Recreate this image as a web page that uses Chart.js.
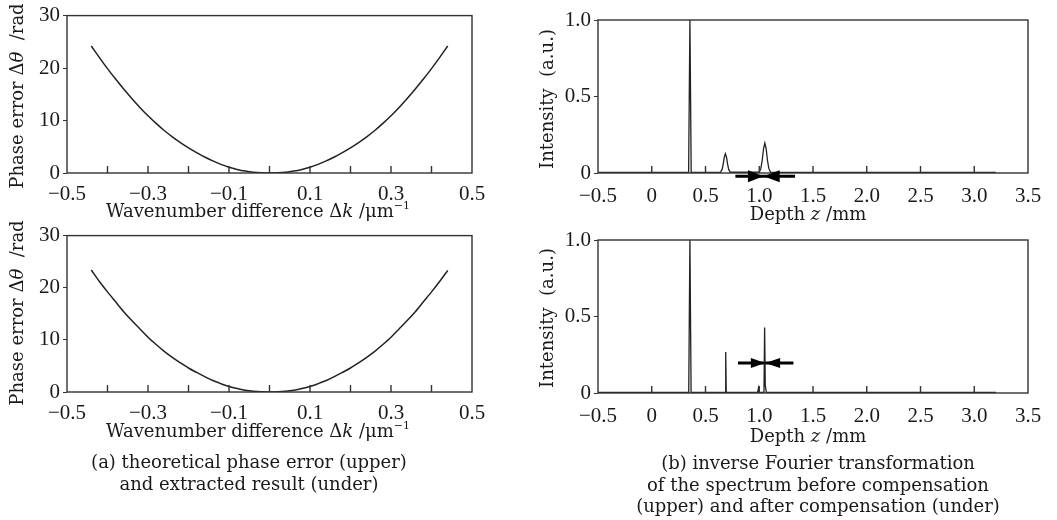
<!DOCTYPE html>
<html>
<head>
<meta charset="utf-8">
<script src="https://cdn.jsdelivr.net/npm/chart.js@4.4.1/dist/chart.umd.min.js"></script>
<style>
  body { margin: 0; background: #fff; }
  #page { position: relative; width: 1057px; height: 520px; overflow: hidden; font-family: "DejaVu Serif", serif; color: #1a1a1a; }
  canvas { position: absolute; }
  .txt { position: absolute; font-size: 18px; white-space: nowrap; transform: translate(-50%, -50%); line-height: 1; }
  .rot { transform: translate(-50%, -50%) rotate(-90deg); }
  .cap { position: absolute; font-size: 18px; text-align: center; transform: translateX(-50%); line-height: 21.7px; white-space: nowrap; }
  sup { font-size: 11px; vertical-align: 8px; line-height: 0; }
</style>
</head>
<body>
<div id="page">
  <canvas id="chartA" width="500" height="220" style="left:0;top:0"></canvas>
  <canvas id="chartB" width="500" height="225" style="left:0;top:220px"></canvas>
  <canvas id="chartC" width="527" height="220" style="left:530px;top:0"></canvas>
  <canvas id="chartD" width="527" height="225" style="left:530px;top:220px"></canvas>

  <div class="txt rot" style="left:17px;top:96px">Phase error &Delta;<i>&theta;</i>&nbsp; /rad</div>
  <div class="txt rot" style="left:17px;top:313px">Phase error &Delta;<i>&theta;</i>&nbsp; /rad</div>
  <div class="txt rot" style="left:547px;top:99px">Intensity&nbsp; (a.u.)</div>
  <div class="txt rot" style="left:547px;top:318px">Intensity&nbsp; (a.u.)</div>

  <div class="txt" style="left:258px;top:211px">Wavenumber difference &Delta;<i>k</i> /&mu;m<sup>&minus;1</sup></div>
  <div class="txt" style="left:258px;top:431px">Wavenumber difference &Delta;<i>k</i> /&mu;m<sup>&minus;1</sup></div>
  <div class="txt" style="left:808px;top:214px">Depth <i>z</i> /mm</div>
  <div class="txt" style="left:808px;top:436px">Depth <i>z</i> /mm</div>

  <div class="cap" style="left:249px;top:451px">(a) theoretical phase error (upper)<br>and extracted result (under)</div>
  <div class="cap" style="left:818px;top:452px">(b) inverse Fourier transformation<br>of the spectrum before compensation<br>(upper) and after compensation (under)</div>
</div>

<script>
// wavenumber difference (um^-1) and phase error (rad)
const dkValues = [-0.44, -0.42, -0.40, -0.38, -0.36, -0.34, -0.32, -0.30, -0.28, -0.26, -0.24, -0.22,
                  -0.20, -0.18, -0.16, -0.14, -0.12, -0.10, -0.08, -0.06, -0.04, -0.02, 0.00,
                  0.02, 0.04, 0.06, 0.08, 0.10, 0.12, 0.14, 0.16, 0.18, 0.20, 0.22,
                  0.24, 0.26, 0.28, 0.30, 0.32, 0.34, 0.36, 0.38, 0.40, 0.42, 0.44];
const phaseTheory = [24.2, 22.0, 19.9, 17.9, 16.0, 14.2, 12.5, 10.9, 9.45, 8.1, 6.9, 5.8,
                     4.8, 3.9, 3.05, 2.3, 1.65, 1.1, 0.68, 0.36, 0.14, 0.03, 0,
                     0.03, 0.14, 0.36, 0.68, 1.1, 1.65, 2.3, 3.05, 3.9, 4.8, 5.8,
                     6.9, 8.1, 9.45, 10.9, 12.5, 14.2, 16.0, 17.9, 19.9, 22.0, 24.2];
const phaseExtracted = [23.4, 21.2, 19.2, 17.3, 15.4, 13.7, 12.1, 10.5, 9.1, 7.8, 6.65, 5.6,
                        4.6, 3.75, 2.95, 2.2, 1.6, 1.06, 0.66, 0.35, 0.14, 0.03, 0,
                        0.03, 0.14, 0.35, 0.66, 1.06, 1.6, 2.2, 2.95, 3.75, 4.6, 5.6,
                        6.65, 7.8, 9.1, 10.5, 12.1, 13.7, 15.4, 17.3, 19.2, 21.2, 23.3];

// depth (mm) and intensity before compensation
const zBefore = [-0.5, 0.343, 0.355, 0.367,
                 0.64, 0.655, 0.665, 0.675, 0.685, 0.695, 0.705, 0.715, 0.73,
                 1.0, 1.015, 1.027, 1.04, 1.052, 1.064, 1.077, 1.089, 1.105, 3.2];
const iBefore = [0.004, 0.004, 1.0, 0.004,
                 0.005, 0.025, 0.06, 0.105, 0.126, 0.105, 0.06, 0.025, 0.005,
                 0.005, 0.03, 0.08, 0.16, 0.196, 0.16, 0.08, 0.03, 0.005, 0.004];

// depth (mm) and intensity after compensation
const zAfter = [-0.5, 0.344, 0.355, 0.366,
                0.683, 0.688, 0.693,
                0.985, 0.993, 1.0, 1.044, 1.05, 1.056, 1.066, 3.2];
const iAfter = [0.004, 0.004, 1.0, 0.004,
                0.004, 0.268, 0.004,
                0.004, 0.033, 0.004, 0.004, 0.428, 0.05, 0.004, 0.004];

// arrows: [line start, left head base, tip, right head base, line end]
const arrowUpperX = [0.778, 0.895, 1.04, 1.19, 1.333];
const arrowUpperY = -0.022;
const arrowLowerX = [0.802, 0.922, 1.055, 1.194, 1.318];
const arrowLowerY = 0.196;

const phaseTicks = [0, 10, 20, 30];
const intensityTicks = [0, 0.5, 1.0];
const depthTicks = [-0.5, 0, 0.5, 1.0, 1.5, 2.0, 2.5, 3.0, 3.5];

Chart.defaults.font.family = '"Liberation Serif", serif';
Chart.defaults.font.size = 21;
Chart.defaults.color = '#1a1a1a';

const ink = '#222';

function minus(v, digits) {
  if (Math.abs(v) < 1e-9) return '0';
  const s = Math.abs(v).toFixed(digits);
  return v < 0 ? '\u2212' + s : s;
}

// frame + inward x ticks
const framePlugin = {
  id: 'frame',
  afterDraw(chart) {
    const { ctx, chartArea: a, scales } = chart;
    ctx.save();
    ctx.strokeStyle = '#333';
    ctx.lineWidth = 1.4;
    ctx.strokeRect(a.left, a.top, a.right - a.left, a.bottom - a.top);
    ctx.beginPath();
    scales.x.ticks.forEach((t, i) => {
      const px = scales.x.getPixelForTick(i);
      if (px <= a.left + 1 || px >= a.right - 1) return;
      ctx.moveTo(px, a.bottom);
      ctx.lineTo(px, a.bottom - 7);
    });
    ctx.stroke();
    ctx.restore();
  }
};

const arrowPlugin = {
  id: 'arrowHeads',
  afterDraw(chart, args, opts) {
    if (!opts.xs) return;
    const { ctx, scales } = chart;
    const y = scales.y.getPixelForValue(opts.y);
    const tip = scales.x.getPixelForValue(opts.xs[2]);
    const bases = [opts.xs[1], opts.xs[3]].map(v => scales.x.getPixelForValue(v));
    const h = opts.half || 5.5;
    ctx.save();
    ctx.fillStyle = '#000';
    bases.forEach(b => {
      ctx.beginPath();
      ctx.moveTo(b, y - h);
      ctx.lineTo(tip, y);
      ctx.lineTo(b, y + h);
      ctx.closePath();
      ctx.fill();
    });
    ctx.restore();
  }
};

function axisY(min, max, tickList, fmt, width) {
  return {
    min: min, max: max,
    afterFit: s => { s.width = width; },
    afterBuildTicks: s => { s.ticks = tickList.map(v => ({ value: v })); },
    ticks: { padding: 3, callback: fmt },
    grid: { drawOnChartArea: false, drawTicks: true, tickLength: 4, color: '#333' },
    border: { display: false }
  };
}

function phaseChart(id, values, padTop, xHeight) {
  return new Chart(document.getElementById(id), {
    type: 'line',
    data: {
      labels: dkValues,
      datasets: [{
        data: dkValues.map((x, i) => ({ x: x, y: values[i] })),
        borderColor: ink,
        borderWidth: 1.5,
        pointRadius: 0,
        tension: 0.3
      }]
    },
    options: {
      responsive: false,
      animation: false,
      layout: { padding: { left: 0, right: 28, top: padTop, bottom: 0 } },
      plugins: { legend: { display: false }, tooltip: { enabled: false } },
      scales: {
        x: {
          type: 'linear', min: -0.5, max: 0.5,
          afterFit: s => { s.height = xHeight; },
          ticks: {
            stepSize: 0.1, autoSkip: false, maxRotation: 0, padding: 9,
            callback: v => (Math.abs(Math.round(v * 10)) % 2 === 1 ? minus(v, 1) : '')
          },
          grid: { drawOnChartArea: false, drawTicks: false },
          border: { display: false }
        },
        y: axisY(0, 30, phaseTicks, v => String(v), 67)
      }
    },
    plugins: [framePlugin]
  });
}

function depthChart(id, zs, is, arrowX, arrowY, padTop, xHeight, half) {
  return new Chart(document.getElementById(id), {
    type: 'scatter',
    data: {
      datasets: [{
        data: zs.map((z, i) => ({ x: z, y: is[i] })),
        showLine: true,
        borderColor: ink,
        borderWidth: 1.3,
        pointRadius: 0
      }, {
        data: [{ x: arrowX[0], y: arrowY }, { x: arrowX[4], y: arrowY }],
        showLine: true,
        borderColor: '#000',
        borderWidth: 3,
        pointRadius: 0,
        clip: false
      }]
    },
    options: {
      responsive: false,
      animation: false,
      layout: { padding: { left: 0, right: 29, top: padTop, bottom: 0 } },
      plugins: {
        legend: { display: false }, tooltip: { enabled: false },
        arrowHeads: { xs: arrowX, y: arrowY, half: half }
      },
      scales: {
        x: {
          type: 'linear', min: -0.5, max: 3.5,
          afterFit: s => { s.height = xHeight; },
          afterBuildTicks: s => { s.ticks = depthTicks.map(v => ({ value: v })); },
          ticks: { autoSkip: false, maxRotation: 0, padding: 11, callback: v => minus(v, 1) },
          grid: { drawOnChartArea: false, drawTicks: false },
          border: { display: false }
        },
        y: axisY(0, 1, intensityTicks, v => (v === 0 ? '0' : v.toFixed(1)), 68)
      }
    },
    plugins: [framePlugin, arrowPlugin]
  });
}

phaseChart('chartA', phaseTheory, 15, 47);
phaseChart('chartB', phaseExtracted, 15, 53);
depthChart('chartC', zBefore, iBefore, arrowUpperX, arrowUpperY, 20, 47, 6);
depthChart('chartD', zAfter, iAfter, arrowLowerX, arrowLowerY, 20, 52, 5);
</script>
</body>
</html>
